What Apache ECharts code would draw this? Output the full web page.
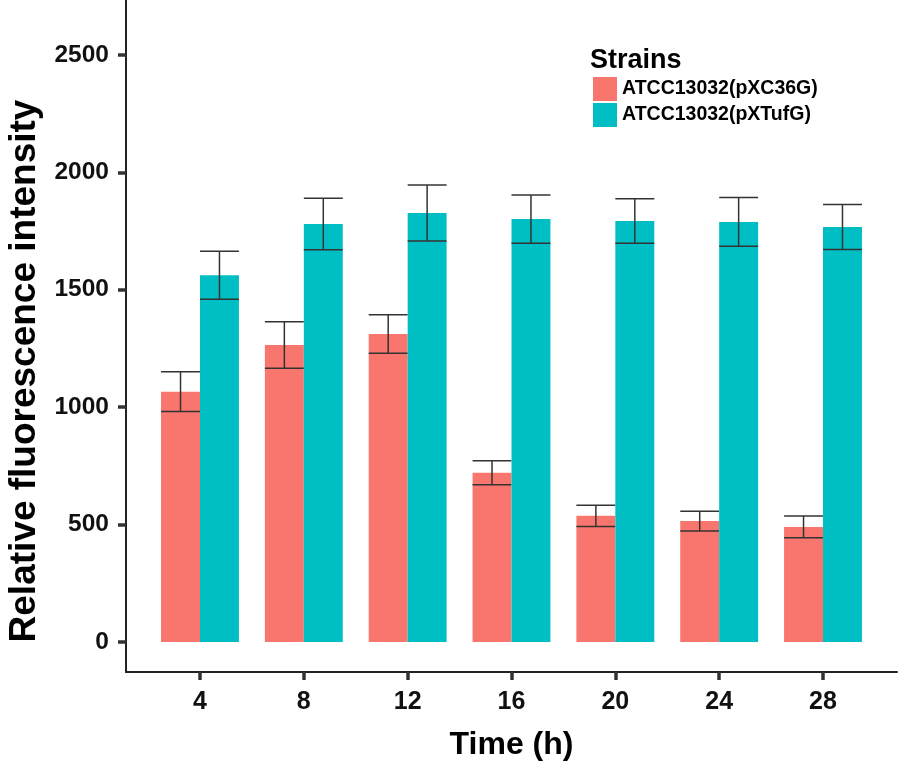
<!DOCTYPE html>
<html><head><meta charset="utf-8">
<script src="https://cdn.jsdelivr.net/npm/echarts@6/dist/echarts.min.js"></script>
<style>html,body{margin:0;padding:0;background:#fff}#c{width:898px;height:766px}</style>
</head><body><div id="c"></div>
<script>
const times = [4, 8, 12, 16, 20, 24, 28];
const pXC36G = [1066, 1265, 1312, 721, 537, 515, 490];
const pXC36G_err = [85, 99, 82, 51, 45, 42, 46];
const pXTufG = [1562, 1780, 1827, 1801, 1793, 1789, 1767];
const pXTufG_err = [102, 110, 119, 103, 95, 104, 96];
const yTicks = [0, 500, 1000, 1500, 2000, 2500];
const names = ['ATCC13032(pXC36G)', 'ATCC13032(pXTufG)'];
const colors = ['#F8766D', '#00BFC4'];
const barW = 1.5;

function makeRender(side, color) {
  return function (params, api) {
    const x = api.value(0), v = api.value(1), e = api.value(2);
    const x0 = side === 0 ? x - barW : x, x1 = side === 0 ? x : x + barW;
    const pTL = api.coord([x0, v]);
    const pBR = api.coord([x1, 0]);
    const pHi = api.coord([(x0 + x1) / 2, v + e]);
    const pLo = api.coord([(x0 + x1) / 2, v - e]);
    const ls = { stroke: '#333', lineWidth: 1.5 };
    return {
      type: 'group',
      children: [
        { type: 'rect', shape: { x: pTL[0], y: pTL[1], width: pBR[0] - pTL[0], height: pBR[1] - pTL[1] }, style: { fill: color } },
        { type: 'line', shape: { x1: pHi[0], y1: pHi[1], x2: pLo[0], y2: pLo[1] }, style: ls },
        { type: 'line', shape: { x1: pTL[0], y1: pHi[1], x2: pBR[0], y2: pHi[1] }, style: ls },
        { type: 'line', shape: { x1: pTL[0], y1: pLo[1], x2: pBR[0], y2: pLo[1] }, style: ls }
      ]
    };
  };
}

const chart = echarts.init(document.getElementById('c'), null, { renderer: 'canvas' });
const font = 'Liberation Sans, Arial, sans-serif';
chart.setOption({
  animation: false,
  backgroundColor: '#fff',
  textStyle: { fontFamily: font },
  title: {
    text: 'Strains', left: 590, top: 47, padding: 0,
    textStyle: { fontFamily: font, fontSize: 27, fontWeight: 'bold', color: '#000' }
  },
  legend: {
    data: names, orient: 'vertical', left: 593, top: 77, padding: 0,
    itemWidth: 24, itemHeight: 24, itemGap: 2, icon: 'rect',
    textStyle: { fontFamily: font, fontSize: 19.5, fontWeight: 'bold', color: '#000' }
  },
  grid: { left: 126, right: 1, top: 0, bottom: 94, containLabel: false, outerBoundsMode: 'none' },
  xAxis: {
    type: 'value', min: 1.15, max: 30.85,
    name: 'Time (h)', nameLocation: 'middle', nameGap: 57,
    nameTextStyle: { fontFamily: font, fontSize: 32, fontWeight: 'bold', color: '#000' },
    axisLine: { onZero: false, lineStyle: { color: '#222', width: 2 } },
    axisTick: { customValues: times, length: 8, lineStyle: { color: '#333', width: 3.5 } },
    axisLabel: { customValues: times, margin: 18, fontFamily: font, fontSize: 25, fontWeight: 'bold', color: '#111', formatter: v => String(v) },
    splitLine: { show: false }
  },
  yAxis: {
    type: 'value', min: -128, max: 2734,
    name: 'Relative fluorescence intensity', nameLocation: 'middle', nameGap: 83, nameRotate: 90,
    nameTextStyle: { fontFamily: font, fontSize: 37, fontWeight: 'bold', color: '#000', padding: [0, 70, 0, 0] },
    axisLine: { show: true, lineStyle: { color: '#222', width: 2 } },
    axisTick: { show: true, customValues: yTicks, length: 8, lineStyle: { color: '#333', width: 3.5 } },
    axisLabel: { customValues: yTicks, margin: 17, fontFamily: font, fontSize: 24.5, fontWeight: 'bold', color: '#111', formatter: v => String(v) },
    splitLine: { show: false }
  },
  series: [
    {
      name: names[0], type: 'custom', itemStyle: { color: colors[0] },
      renderItem: makeRender(0, colors[0]),
      data: times.map((t, i) => [t, pXC36G[i], pXC36G_err[i]])
    },
    {
      name: names[1], type: 'custom', itemStyle: { color: colors[1] },
      renderItem: makeRender(1, colors[1]),
      data: times.map((t, i) => [t, pXTufG[i], pXTufG_err[i]])
    }
  ]
});
</script></body></html>
